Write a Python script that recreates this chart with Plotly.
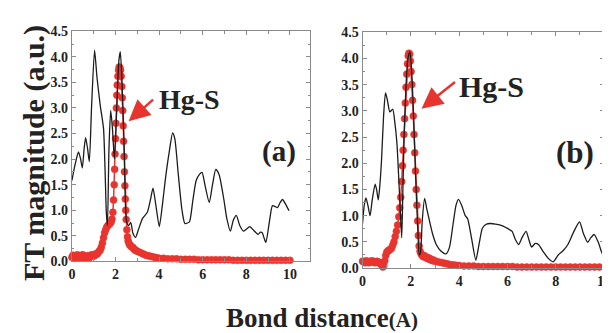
import plotly.graph_objects as go

# ---------------- data ----------------
# Panel (a): experimental FT (black line)
a_exp_x = [0.0, 0.15, 0.3, 0.4, 0.48, 0.56, 0.63, 0.72, 0.8, 0.9, 1.04, 1.15, 1.3, 1.45, 1.52,
           1.58, 1.63, 1.7, 1.78, 1.86, 1.95, 2.05, 2.15, 2.22, 2.3, 2.4, 2.5, 2.6, 2.7, 2.8,
           2.92, 3.05, 3.24, 3.46, 3.6, 3.72, 3.85, 4.01, 4.15, 4.28, 4.45, 4.62, 4.72, 4.88,
           5.05, 5.18, 5.3, 5.4, 5.55, 5.7, 5.85, 5.97, 6.1, 6.3, 6.45, 6.6, 6.75, 6.97, 7.1,
           7.27, 7.4, 7.54, 7.7, 7.87, 8.0, 8.16, 8.35, 8.54, 8.65, 8.73, 8.82, 8.9, 9.05, 9.2,
           9.33, 9.43, 9.55, 9.66, 9.8, 9.96]
a_exp_y = [1.58, 1.9, 2.14, 2.0, 1.83, 2.2, 2.42, 2.2, 1.95, 3.0, 4.13, 3.6, 3.05, 2.6, 1.8,
           0.95, 0.7, 2.2, 2.95, 2.6, 2.0, 2.9, 3.9, 4.1, 3.5, 2.2, 0.8, 0.7, 0.76, 0.55,
           0.47, 0.62, 0.84, 0.96, 1.2, 1.43, 1.1, 0.68, 1.1, 1.58, 2.1, 2.51, 2.4, 1.7,
           1.0, 0.74, 0.75, 0.78, 1.2, 1.58, 1.7, 1.74, 1.5, 1.15, 1.5, 1.8, 1.7, 1.21, 0.85,
           0.59, 0.8, 0.9, 0.7, 0.59, 0.63, 0.68, 0.6, 0.53, 0.57, 0.56, 0.45, 0.37, 0.75, 1.09,
           1.07, 1.05, 1.15, 1.21, 1.12, 0.99]

# Panel (a): Hg-S fit (red dots)
a_fit_x = [0.0, 0.05, 0.1, 0.15, 0.2, 0.25, 0.3, 0.35, 0.4, 0.45, 0.5, 0.55, 0.6, 0.65, 0.7,
           0.75, 0.8, 0.85, 0.9, 0.95, 1.0, 1.05, 1.1, 1.15, 1.2, 1.25, 1.3, 1.35, 1.4, 1.45,
           1.5, 1.55, 1.6, 1.65, 1.7, 1.75, 1.8, 1.84, 1.88, 1.91, 1.94, 1.96, 1.98, 2.0, 2.02,
           2.04, 2.06, 2.08, 2.11, 2.14, 2.17, 2.2, 2.23, 2.26, 2.29, 2.31, 2.33, 2.35, 2.37,
           2.39, 2.41, 2.43, 2.45, 2.47, 2.49, 2.52, 2.55, 2.58, 2.62, 2.66, 2.7, 2.75, 2.8,
           2.85, 2.9, 2.95, 3.0, 3.1, 3.2, 3.3, 3.4, 3.5, 3.6, 3.7, 3.8, 3.9, 4.0,
           4.2, 4.4, 4.6, 4.8, 5.0, 5.2, 5.4, 5.6, 5.8, 6.0, 6.2, 6.4, 6.6, 6.8, 7.0, 7.2, 7.4,
           7.6, 7.8, 8.0, 8.2, 8.4, 8.6, 8.8, 9.0, 9.2, 9.4, 9.6, 9.8, 10.0]
a_fit_y = [0.08, 0.12, 0.1, 0.06, 0.09, 0.13, 0.1, 0.06, 0.08, 0.12, 0.13, 0.09, 0.06, 0.08, 0.11,
           0.1, 0.07, 0.1, 0.13, 0.12, 0.1, 0.12, 0.15, 0.14, 0.17, 0.2, 0.22, 0.28, 0.36, 0.46,
           0.56, 0.62, 0.67, 0.7, 0.72, 0.74, 0.77, 0.83, 0.96, 1.2, 1.5, 1.8, 2.1, 2.4, 2.7,
           3.0, 3.25, 3.45, 3.62, 3.74, 3.8, 3.79, 3.74, 3.62, 3.42, 3.2, 2.95, 2.65, 2.35,
           2.05, 1.75, 1.48, 1.22, 1.0, 0.82, 0.62, 0.48, 0.4, 0.35, 0.32, 0.3, 0.28, 0.27,
           0.24, 0.22, 0.21, 0.2, 0.18, 0.16, 0.14, 0.12, 0.11, 0.1, 0.09, 0.08, 0.07, 0.06,
           0.06, 0.05, 0.05, 0.05, 0.04, 0.04, 0.04, 0.04, 0.03, 0.03, 0.03, 0.03, 0.03, 0.03, 0.03, 0.03, 0.02,
           0.02, 0.02, 0.02, 0.02, 0.02, 0.02, 0.02, 0.02, 0.02, 0.02, 0.02, 0.02, 0.02]

# Panel (b): experimental FT (black line)
b_exp_x = [0.0, 0.07, 0.14, 0.22, 0.31, 0.4, 0.52, 0.58, 0.65, 0.72, 0.79, 0.87, 0.95, 1.03,
           1.13, 1.25, 1.33, 1.42, 1.5, 1.56, 1.62, 1.66, 1.72, 1.8, 1.88, 1.96, 2.04, 2.12,
           2.2, 2.28, 2.35, 2.4, 2.47, 2.57, 2.65, 2.78, 2.9, 3.05, 3.25, 3.46, 3.6, 3.75,
           3.87, 3.97, 4.1, 4.25, 4.35, 4.5, 4.69, 4.82, 4.96, 5.1, 5.3, 5.5, 5.71, 5.95,
           6.19, 6.32, 6.46, 6.6, 6.77, 6.88, 7.0, 7.15, 7.28, 7.5, 7.7, 7.89, 8.1, 8.3, 8.5,
           8.75, 8.98, 9.15, 9.32, 9.45, 9.59, 9.75, 9.9, 10.0]
b_exp_y = [0.85, 1.2, 1.34, 1.2, 1.0, 1.3, 1.6, 1.5, 1.3, 1.6, 2.1, 2.9, 3.34, 3.2,
           2.98, 3.03, 2.8, 2.4, 1.7, 1.1, 0.58, 1.3, 2.5, 3.5, 4.0, 4.13, 3.7, 2.8,
           1.7, 0.8, 0.25, 0.3, 0.9, 1.33, 1.15, 0.88, 0.65, 0.45, 0.32, 0.27, 0.4, 0.85,
           1.2, 1.31, 1.2, 1.0, 0.94, 0.6, 0.15, 0.45, 0.76, 0.83, 0.85, 0.84, 0.82, 0.77,
           0.7, 0.55, 0.45, 0.58, 0.7, 0.55, 0.4, 0.47, 0.45, 0.3, 0.18, 0.12, 0.25, 0.33, 0.45,
           0.7, 0.88, 0.65, 0.49, 0.58, 0.64, 0.5, 0.3, 0.2]

# Panel (b): Hg-S fit (red dots)
b_fit_x = [0.0, 0.05, 0.1, 0.15, 0.2, 0.25, 0.3, 0.35, 0.4, 0.45, 0.5, 0.55, 0.6, 0.65, 0.7,
           0.75, 0.8, 0.84, 0.88, 0.92, 0.96, 1.0, 1.05, 1.1, 1.15, 1.2, 1.25, 1.3, 1.35, 1.4,
           1.45, 1.5, 1.54, 1.58, 1.62, 1.65, 1.68, 1.71, 1.74, 1.77, 1.8, 1.83, 1.86, 1.89,
           1.92, 1.95, 1.98, 2.01, 2.04, 2.07, 2.1, 2.13, 2.16, 2.19, 2.22, 2.25, 2.28, 2.31,
           2.34, 2.38, 2.42, 2.46, 2.5, 2.55, 2.6, 2.65, 2.7, 2.75, 2.8, 2.85, 2.9, 2.95, 3.0,
           3.1, 3.2, 3.3, 3.4, 3.5, 3.6, 3.7, 3.8, 3.9, 4.0,
           4.2, 4.4, 4.6, 4.8, 5.0, 5.2, 5.4, 5.6, 5.8, 6.0, 6.2, 6.4, 6.6, 6.8, 7.0, 7.2, 7.4,
           7.6, 7.8, 8.0, 8.2, 8.4, 8.6, 8.8, 9.0, 9.2, 9.4, 9.6, 9.8, 10.0]
b_fit_y = [0.13, 0.12, 0.1, 0.14, 0.12, 0.1, 0.13, 0.11, 0.14, 0.12, 0.1, 0.12, 0.13, 0.1, 0.11,
           0.08, 0.05, 0.02, 0.04, 0.14, 0.24, 0.3, 0.33, 0.34, 0.36, 0.38, 0.44, 0.5, 0.6, 0.7,
           0.82, 0.98, 1.15, 1.35, 1.65, 1.95, 2.25, 2.55, 2.85, 3.15, 3.45, 3.7, 3.9, 4.05,
           4.1, 4.08, 3.95, 3.75, 3.5, 3.2, 2.9, 2.55, 2.2, 1.85, 1.5, 1.2, 0.9, 0.62,
           0.42, 0.32, 0.27, 0.25, 0.22, 0.24, 0.2, 0.21, 0.18, 0.19, 0.16, 0.17, 0.14, 0.15, 0.13,
           0.12, 0.11, 0.1, 0.09, 0.08, 0.07, 0.06, 0.06, 0.05, 0.05,
           0.04, 0.04, 0.04, 0.03, 0.03, 0.03, 0.03, 0.03, 0.03, 0.03, 0.03, 0.02, 0.02, 0.02, 0.02,
           0.02, 0.02, 0.02, 0.02, 0.02, 0.02, 0.02, 0.02, 0.02, 0.02, 0.02, 0.02, 0.02, 0.02, 0.02]

y_tick_vals = [0.0, 0.5, 1.0, 1.5, 2.0, 2.5, 3.0, 3.5, 4.0, 4.5]
y_tick_text = ["0.0", "0.5", "1.0", "1.5", "2.0", "2.5", "3.0", "3.5", "4.0", "4.5"]
x_tick_vals = [0, 2, 4, 6, 8, 10]
x_tick_text = ["0", "2", "4", "6", "8", "10"]

# ---------------- styling ----------------
W, H = 610, 333
RED = "#e8342f"
BLACK = "#1c1c1c"
FONT = "Liberation Serif"
GRAY = "#8a8a8a"


def px(x):
    return x / W


def py(y):
    return 1 - y / H


def bold(lst):
    return ["<b>%s</b>" % t for t in lst]


fig = go.Figure()

for xs, ys, xa, ya in [(a_fit_x, a_fit_y, "x", "y"), (b_fit_x, b_fit_y, "x2", "y2")]:
    fig.add_trace(go.Scatter(x=xs, y=ys, xaxis=xa, yaxis=ya, mode="lines+markers",
                             line=dict(color=RED, width=1.5),
                             marker=dict(color=RED, size=7, line=dict(width=0.5, color=RED)),
                             cliponaxis=False, showlegend=False))
for xs, ys, xa, ya in [(a_exp_x, a_exp_y, "x", "y"), (b_exp_x, b_exp_y, "x2", "y2")]:
    fig.add_trace(go.Scatter(x=xs, y=ys, xaxis=xa, yaxis=ya, mode="lines",
                             line=dict(color=BLACK, width=1.3, shape="spline", smoothing=0.6),
                             showlegend=False))

tickfont = dict(family=FONT, size=14, color="#222")
axis_common = dict(showgrid=False, zeroline=False, showline=True, linecolor=GRAY,
                   linewidth=1, mirror="ticks", ticks="inside", ticklen=4, tickcolor=GRAY,
                   tickfont=tickfont)

fig.update_layout(
    width=W, height=H, margin=dict(l=0, r=0, t=0, b=0),
    paper_bgcolor="white", plot_bgcolor="white",
    xaxis=dict(domain=[px(61), px(303)], range=[0, 10.9], anchor="y",
               tickvals=x_tick_vals, ticktext=bold(x_tick_text),
               minor=dict(dtick=1, ticks="inside", ticklen=3, tickcolor=GRAY),
               **axis_common),
    yaxis=dict(domain=[py(258), py(17)], range=[0, 4.5], anchor="x",
               tickvals=y_tick_vals, ticktext=bold(y_tick_text),
               minor=dict(dtick=0.25, ticks="inside", ticklen=2, tickcolor=GRAY),
               **axis_common),
    xaxis2=dict(domain=[px(357), px(603)], range=[0, 10], anchor="y2",
                tickvals=x_tick_vals, ticktext=bold(x_tick_text),
                minor=dict(dtick=1, ticks="inside", ticklen=3, tickcolor=GRAY),
                **axis_common),
    yaxis2=dict(domain=[py(265), py(18)], range=[0, 4.5], anchor="x2",
                tickvals=y_tick_vals, ticktext=bold(y_tick_text),
                minor=dict(dtick=0.25, ticks="inside", ticklen=2, tickcolor=GRAY),
                **axis_common),
)

ann = []
# axis titles
ann.append(dict(text="<b>FT magnitude (a.u.)</b>", xref="paper", yref="paper",
                x=px(23), y=py(145), xanchor="center", yanchor="middle", textangle=-90,
                showarrow=False, font=dict(family=FONT, size=30, color="#222")))
ann.append(dict(text="<b>Bond distance<span style='font-size:21px'>(A)</span></b>",
                xref="paper", yref="paper", x=px(316), y=py(317), xanchor="center",
                yanchor="middle", showarrow=False, font=dict(family=FONT, size=27, color="#222")))
# panel labels
ann.append(dict(text="<b>(a)</b>", xref="paper", yref="paper", x=px(272), y=py(143),
                xanchor="center", yanchor="middle", showarrow=False,
                font=dict(family=FONT, size=29, color="#222")))
ann.append(dict(text="<b>(b)</b>", xref="paper", yref="paper", x=px(573), y=py(144),
                xanchor="center", yanchor="middle", showarrow=False,
                font=dict(family=FONT, size=31, color="#222")))
# Hg-S labels
ann.append(dict(text="<b>Hg-S</b>", xref="paper", yref="paper", x=px(181), y=py(88),
                xanchor="center", yanchor="middle", showarrow=False,
                font=dict(family=FONT, size=28, color="#222")))
ann.append(dict(text="<b>Hg-S</b>", xref="paper", yref="paper", x=px(488), y=py(75),
                xanchor="center", yanchor="middle", showarrow=False,
                font=dict(family=FONT, size=30, color="#222")))
# arrows
ann.append(dict(text="", xref="x", yref="y", x=2.6, y=2.74, ax=26, ay=-23,
                showarrow=True, arrowhead=2, arrowwidth=2.5, arrowsize=1.7, arrowcolor=RED))
ann.append(dict(text="", xref="x2", yref="y2", x=2.44, y=3.04, ax=35, ay=-28,
                showarrow=True, arrowhead=2, arrowwidth=2.5, arrowsize=1.7, arrowcolor=RED))

fig.update_layout(annotations=ann)

fig.write_html("out.html")
